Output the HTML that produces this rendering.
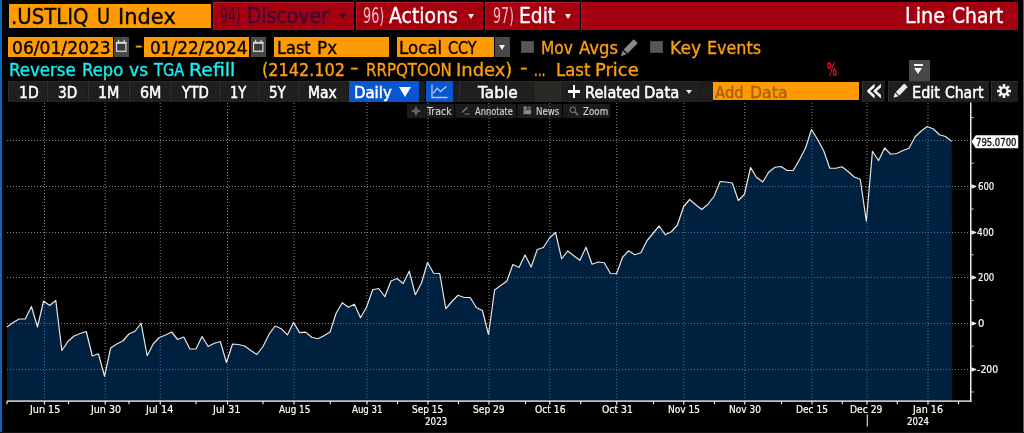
<!DOCTYPE html>
<html><head><meta charset="utf-8"><title>Line Chart</title>
<style>
html,body{margin:0;padding:0;background:#000;}
body{width:1024px;height:433px;position:relative;overflow:hidden;font-family:"DejaVu Sans", "Liberation Sans", sans-serif;}
.b{position:absolute;display:block;}
.t{position:absolute;white-space:pre;line-height:1;transform-origin:0 0;}
</style></head><body>
<div class="b" style="left:0px;top:0px;width:1.5px;height:433px;background:#0a68b8;"></div>
<div class="b" style="left:1022.8px;top:0px;width:1.2px;height:433px;background:#0a78d2;"></div>
<div class="b" style="left:0px;top:432px;width:1024px;height:1px;background:#141414;"></div>
<div class="b" style="left:8.8px;top:3.8px;width:202.4px;height:24.7px;background:#ff9a00;"></div>
<div class="b" style="left:212.7px;top:2.2px;width:141.5px;height:27.8px;background:#a4000f;box-shadow:inset 0 1px 0 #bc1c30, inset 1px 0 0 #b41426;"></div>
<div class="b" style="left:355.6px;top:2.2px;width:127.6px;height:27.8px;background:#a4000f;box-shadow:inset 0 1px 0 #bc1c30, inset 1px 0 0 #b41426;"></div>
<div class="b" style="left:484.6px;top:2.2px;width:95.4px;height:27.8px;background:#a4000f;box-shadow:inset 0 1px 0 #bc1c30, inset 1px 0 0 #b41426;"></div>
<div class="b" style="left:581.4px;top:2.2px;width:436.5px;height:27.8px;background:#a4000f;box-shadow:inset 1px 0 0 #b81428;"></div>
<div class="b" style="left:339.5px;top:14.2px;width:0;height:0;border-left:3.2px solid transparent;border-right:3.2px solid transparent;border-top:5.2px solid #3a0838;"></div>
<div class="b" style="left:468px;top:14.2px;width:0;height:0;border-left:3.2px solid transparent;border-right:3.2px solid transparent;border-top:5.2px solid #eee;"></div>
<div class="b" style="left:565px;top:14.2px;width:0;height:0;border-left:3.3px solid transparent;border-right:3.3px solid transparent;border-top:5.2px solid #eee;"></div>
<div class="b" style="left:8.3px;top:37px;width:104.7px;height:20px;background:#ff9a00;"></div>
<div class="b" style="left:113.5px;top:37px;width:15.9px;height:20px;background:#484848;"></div>
<div class="b" style="left:144.4px;top:37px;width:104.8px;height:20px;background:#ff9a00;"></div>
<div class="b" style="left:250.5px;top:37px;width:15.4px;height:20px;background:#484848;"></div>
<div class="b" style="left:273.6px;top:37px;width:115.4px;height:20px;background:#ff9a00;"></div>
<div class="b" style="left:397.2px;top:37px;width:97.0px;height:20px;background:#ff9a00;"></div>
<div class="b" style="left:495.2px;top:37px;width:15.0px;height:20px;background:#484848;"></div>
<div class="b" style="left:499.4px;top:45px;width:0;height:0;border-left:3.2px solid transparent;border-right:3.2px solid transparent;border-top:5px solid #f4f4f4;"></div>
<div class="b" style="left:521px;top:41px;width:12.6px;height:12.4px;background:#585858;box-shadow:inset 0 0 0 1px #4a4a4a;"></div>
<div class="b" style="left:650px;top:41px;width:13px;height:12.4px;background:#585858;box-shadow:inset 0 0 0 1px #4a4a4a;"></div>
<svg class="b" style="left:116px;top:39.1px" width="11.4" height="13.3" viewBox="0 0 13 14" preserveAspectRatio="none"><rect x="0.7" y="3.7" width="10.6" height="9.2" fill="#3b3b3b" stroke="#dedede" stroke-width="1.3"/><rect x="0.1" y="3.1" width="11.8" height="1.9" fill="#dedede"/><rect x="2.3" y="0.8" width="1.3" height="3" fill="#dedede"/><rect x="8.6" y="0.8" width="1.3" height="3" fill="#dedede"/></svg>
<svg class="b" style="left:252.7px;top:39.1px" width="11.4" height="13.3" viewBox="0 0 13 14" preserveAspectRatio="none"><rect x="0.7" y="3.7" width="10.6" height="9.2" fill="#3b3b3b" stroke="#dedede" stroke-width="1.3"/><rect x="0.1" y="3.1" width="11.8" height="1.9" fill="#dedede"/><rect x="2.3" y="0.8" width="1.3" height="3" fill="#dedede"/><rect x="8.6" y="0.8" width="1.3" height="3" fill="#dedede"/></svg>
<svg class="b" style="left:616.6px;top:38.5px" width="21" height="21" viewBox="0 0 19 19"><g transform="rotate(45 9.5 9.5)"><rect x="7" y="-1" width="5" height="13" fill="#8a8a8a"/><path d="M7 13.2h5L9.5 18z" fill="#8a8a8a"/></g></svg>
<div class="b" style="left:908.5px;top:59.8px;width:21.3px;height:20.8px;background:#484848;"></div>
<div class="b" style="left:914px;top:63.8px;width:9px;height:1.8px;background:#f4f4f4;"></div>
<div class="b" style="left:914px;top:67.5px;width:0;height:0;border-left:4.5px solid transparent;border-right:4.5px solid transparent;border-top:6.3px solid #f4f4f4;"></div>
<div class="b" style="left:8.2px;top:80.7px;width:38.8px;height:21.6px;background:#1f1f1f;box-shadow:inset 1px 0 0 #303030, inset 0 1px 0 #2c2c2c, inset -1px 0 0 #1a1a1a;"></div>
<div class="b" style="left:47px;top:80.7px;width:41px;height:21.6px;background:#1f1f1f;box-shadow:inset 1px 0 0 #303030, inset 0 1px 0 #2c2c2c, inset -1px 0 0 #1a1a1a;"></div>
<div class="b" style="left:88px;top:80.7px;width:41px;height:21.6px;background:#1f1f1f;box-shadow:inset 1px 0 0 #303030, inset 0 1px 0 #2c2c2c, inset -1px 0 0 #1a1a1a;"></div>
<div class="b" style="left:129px;top:80.7px;width:41px;height:21.6px;background:#1f1f1f;box-shadow:inset 1px 0 0 #303030, inset 0 1px 0 #2c2c2c, inset -1px 0 0 #1a1a1a;"></div>
<div class="b" style="left:170px;top:80.7px;width:49px;height:21.6px;background:#1f1f1f;box-shadow:inset 1px 0 0 #303030, inset 0 1px 0 #2c2c2c, inset -1px 0 0 #1a1a1a;"></div>
<div class="b" style="left:219px;top:80.7px;width:39px;height:21.6px;background:#1f1f1f;box-shadow:inset 1px 0 0 #303030, inset 0 1px 0 #2c2c2c, inset -1px 0 0 #1a1a1a;"></div>
<div class="b" style="left:258px;top:80.7px;width:40px;height:21.6px;background:#1f1f1f;box-shadow:inset 1px 0 0 #303030, inset 0 1px 0 #2c2c2c, inset -1px 0 0 #1a1a1a;"></div>
<div class="b" style="left:298px;top:80.7px;width:51px;height:21.6px;background:#1f1f1f;box-shadow:inset 1px 0 0 #303030, inset 0 1px 0 #2c2c2c, inset -1px 0 0 #1a1a1a;"></div>
<div class="b" style="left:349.4px;top:80.7px;width:69.3px;height:21.6px;background:#0a55d0;"></div>
<div class="b" style="left:418.7px;top:80.7px;width:6.8px;height:21.6px;background:#1e1e1e;"></div>
<div class="b" style="left:425.5px;top:80.7px;width:27.0px;height:21.6px;background:#0a55d0;"></div>
<div class="b" style="left:452.5px;top:80.7px;width:6.2px;height:21.6px;background:#1e1e1e;"></div>
<div class="b" style="left:458.7px;top:80.7px;width:75.0px;height:21.6px;background:#1f1f1f;box-shadow:inset 1px 0 0 #303030, inset 0 1px 0 #2c2c2c, inset -1px 0 0 #1a1a1a;"></div>
<div class="b" style="left:533.7px;top:80.7px;width:26.3px;height:21.6px;background:#2a2822;"></div>
<div class="b" style="left:560px;top:80.7px;width:139.5px;height:21.6px;background:#1f1f1f;box-shadow:inset 1px 0 0 #303030, inset 0 1px 0 #2c2c2c, inset -1px 0 0 #1a1a1a;"></div>
<div class="b" style="left:699.5px;top:80.7px;width:13.5px;height:21.6px;background:#1f1e1a;"></div>
<div class="b" style="left:713px;top:81.5px;width:146.3px;height:18.8px;background:#ff9a00;"></div>
<div class="b" style="left:861.7px;top:80.7px;width:23.8px;height:21.6px;background:#1f1f1f;box-shadow:inset 1px 0 0 #303030, inset 0 1px 0 #2c2c2c, inset -1px 0 0 #1a1a1a;"></div>
<div class="b" style="left:887.5px;top:80.7px;width:101.7px;height:21.6px;background:#1f1f1f;box-shadow:inset 1px 0 0 #303030, inset 0 1px 0 #2c2c2c, inset -1px 0 0 #1a1a1a;"></div>
<div class="b" style="left:991.3px;top:80.7px;width:26.7px;height:21.6px;background:#1f1f1f;box-shadow:inset 1px 0 0 #303030, inset 0 1px 0 #2c2c2c, inset -1px 0 0 #1a1a1a;"></div>
<div class="b" style="left:398.8px;top:86.5px;width:0;height:0;border-left:6.2px solid transparent;border-right:6.2px solid transparent;border-top:10.5px solid #fff;"></div>
<div class="b" style="left:685.5px;top:90.2px;width:0;height:0;border-left:3.35px solid transparent;border-right:3.35px solid transparent;border-top:4.4px solid #eee;"></div>
<div class="b" style="left:567.5px;top:90.3px;width:12.5px;height:2.4px;background:#fff;"></div>
<div class="b" style="left:572.6px;top:85.2px;width:2.4px;height:12.6px;background:#fff;"></div>
<svg class="b" style="left:430px;top:83px" width="19" height="17" viewBox="0 0 19 17"><path d="M2 1.5V14.5H17.5" fill="none" stroke="#b4c6f2" stroke-width="1.3"/><path d="M3.2 10.5L7.2 5.2L10.6 8.6L16.5 3.2" fill="none" stroke="#b4c6f2" stroke-width="1.3"/></svg>
<svg class="b" style="left:890.3px;top:82.9px" width="18.3" height="18.3" viewBox="0 0 17 17"><g transform="rotate(45 8.5 8.5)"><rect x="6.2" y="-0.5" width="4.6" height="11" fill="#eee"/><path d="M6.2 11.6h4.6L8.5 16z" fill="#eee"/></g></svg>
<svg class="b" style="left:996.9px;top:83.8px" width="14" height="14" viewBox="-7 -7 14 14"><g fill="#f0f0f0"><rect x="-1.3" y="-7" width="2.6" height="14" transform="rotate(0)"/><rect x="-1.3" y="-7" width="2.6" height="14" transform="rotate(45)"/><rect x="-1.3" y="-7" width="2.6" height="14" transform="rotate(90)"/><rect x="-1.3" y="-7" width="2.6" height="14" transform="rotate(135)"/><circle r="4.6"/></g><circle r="2.4" fill="#1e1e1e"/></svg>
<div class="b" style="left:406.5px;top:103.5px;width:47.5px;height:14.5px;background:#1b1b1b;"></div>
<div class="b" style="left:455.2px;top:103.5px;width:60.4px;height:14.5px;background:#1b1b1b;"></div>
<div class="b" style="left:516.8px;top:103.5px;width:45.2px;height:14.5px;background:#1b1b1b;"></div>
<div class="b" style="left:563.2px;top:103.5px;width:46.8px;height:14.5px;background:#1b1b1b;"></div>
<svg class="b" style="left:410.6px;top:105.5px" width="10" height="10" viewBox="0 0 10 10"><path d="M5 0.5V9.5M0.5 5H9.5" stroke="#828282" stroke-width="1"/><rect x="3" y="3" width="4" height="4" fill="none" stroke="#828282" stroke-width="0.9" transform="rotate(45 5 5)"/></svg>
<svg class="b" style="left:460.5px;top:106px" width="9" height="9" viewBox="0 0 9 9"><path d="M1 6.5L6.5 1.2" stroke="#828282" stroke-width="1.2"/><path d="M3.5 8h4.8" stroke="#828282" stroke-width="1"/></svg>
<svg class="b" style="left:523px;top:106.3px" width="9" height="9" viewBox="0 0 9 9"><rect x="0.5" y="0.5" width="3.2" height="3.2" fill="#8a8a8a"/><rect x="0.5" y="4.2" width="7.6" height="4" fill="#8a8a8a"/><rect x="4.4" y="0.8" width="3.6" height="1" fill="#8a8a8a"/><rect x="4.4" y="2.6" width="3.6" height="1" fill="#8a8a8a"/></svg>
<svg class="b" style="left:568.5px;top:105.8px" width="10" height="10" viewBox="0 0 10 10"><circle cx="3.8" cy="3.8" r="2.8" fill="none" stroke="#828282" stroke-width="1"/><path d="M6 6L9.2 9.2" stroke="#828282" stroke-width="1.3"/></svg>
<svg class="b" style="left:0;top:0" width="1024" height="433" viewBox="0 0 1024 433">
<defs><clipPath id="ac"><path d="M7.03,401 L7.03,327.00 L13.12,322.50 L19.22,319.00 L25.31,319.00 L31.41,306.50 L37.50,327.00 L43.60,301.00 L49.69,305.50 L55.79,300.50 L61.88,350.50 L67.97,341.50 L74.07,336.00 L80.16,333.50 L86.26,331.50 L92.35,356.00 L98.45,353.75 L104.54,376.25 L110.64,348.00 L116.73,344.00 L122.83,341.00 L128.92,334.00 L135.01,331.25 L141.11,323.25 L147.20,355.75 L153.30,343.75 L159.39,337.50 L165.49,335.00 L171.58,332.00 L177.68,339.50 L183.77,337.00 L189.87,349.00 L195.96,349.00 L202.05,336.50 L208.15,346.50 L214.24,343.25 L220.34,341.50 L226.43,362.50 L232.53,344.00 L238.62,344.50 L244.72,346.00 L250.81,350.60 L256.90,354.50 L263.00,346.50 L269.09,334.20 L275.19,326.00 L281.28,328.75 L287.38,334.90 L293.47,322.50 L299.57,332.60 L305.66,332.10 L311.75,337.25 L317.85,338.75 L323.94,335.70 L330.04,332.10 L336.13,313.25 L342.23,302.75 L348.32,307.25 L354.42,304.25 L360.51,317.75 L366.61,307.00 L372.70,289.75 L378.79,288.50 L384.89,296.75 L390.98,281.00 L397.08,278.50 L403.17,283.50 L409.27,271.25 L415.36,294.75 L421.46,283.00 L427.55,262.50 L433.64,273.25 L439.74,273.50 L445.83,308.75 L451.93,301.50 L458.02,295.25 L464.12,297.50 L470.21,297.50 L476.31,307.50 L482.40,310.50 L488.50,334.50 L494.59,290.00 L500.68,285.50 L506.78,281.25 L512.87,264.50 L518.97,267.50 L525.06,255.00 L531.16,267.00 L537.25,249.50 L543.35,247.50 L549.44,238.00 L555.53,232.50 L561.63,258.75 L567.72,251.00 L573.82,255.75 L579.91,260.25 L586.01,247.25 L592.10,264.25 L598.20,262.00 L604.29,262.75 L610.39,273.50 L616.48,273.75 L622.57,257.25 L628.67,250.75 L634.76,254.75 L640.86,252.75 L646.95,240.75 L653.05,233.25 L659.14,226.00 L665.24,234.75 L671.33,231.75 L677.42,225.00 L683.52,206.75 L689.61,199.50 L695.71,204.75 L701.80,209.50 L707.90,204.25 L713.99,196.50 L720.09,181.50 L726.18,182.00 L732.28,183.00 L738.37,200.50 L744.46,194.25 L750.56,167.50 L756.65,177.50 L762.75,182.00 L768.84,172.00 L774.94,167.25 L781.03,166.50 L787.13,170.50 L793.22,170.50 L799.31,160.00 L805.41,148.25 L811.50,129.50 L817.60,139.50 L823.69,150.75 L829.79,168.25 L835.88,168.25 L841.98,166.75 L848.07,171.50 L854.17,177.00 L860.26,179.25 L866.35,221.25 L872.45,151.25 L878.54,160.50 L884.64,148.00 L890.73,154.25 L896.83,153.50 L902.92,150.50 L909.02,148.25 L915.11,136.75 L921.20,131.00 L927.30,126.50 L933.39,129.00 L939.49,134.75 L945.58,136.50 L951.68,141.40 L952.28,401 Z"/></clipPath></defs>
<g stroke="#848484" stroke-width="1" stroke-dasharray="1 2" fill="none"><line x1="7" x2="968.5" y1="140.5" y2="140.5"/><line x1="7" x2="968.5" y1="186.5" y2="186.5"/><line x1="7" x2="968.5" y1="232.5" y2="232.5"/><line x1="7" x2="968.5" y1="277.5" y2="277.5"/><line x1="7" x2="968.5" y1="323.5" y2="323.5"/><line x1="7" x2="968.5" y1="369.5" y2="369.5"/><line x1="44.5" x2="44.5" y1="103" y2="400.5"/><line x1="105.25" x2="105.25" y1="103" y2="400.5"/><line x1="160.25" x2="160.25" y1="103" y2="400.5"/><line x1="227.5" x2="227.5" y1="103" y2="400.5"/><line x1="294" x2="294" y1="103" y2="400.5"/><line x1="367" x2="367" y1="103" y2="400.5"/><line x1="428" x2="428" y1="103" y2="400.5"/><line x1="489" x2="489" y1="103" y2="400.5"/><line x1="549.75" x2="549.75" y1="103" y2="400.5"/><line x1="616.75" x2="616.75" y1="103" y2="400.5"/><line x1="683.75" x2="683.75" y1="103" y2="400.5"/><line x1="744.75" x2="744.75" y1="103" y2="400.5"/><line x1="812" x2="812" y1="103" y2="400.5"/><line x1="867" x2="867" y1="103" y2="400.5"/><line x1="928" x2="928" y1="103" y2="400.5"/></g>
<path d="M7.03,401 L7.03,327.00 L13.12,322.50 L19.22,319.00 L25.31,319.00 L31.41,306.50 L37.50,327.00 L43.60,301.00 L49.69,305.50 L55.79,300.50 L61.88,350.50 L67.97,341.50 L74.07,336.00 L80.16,333.50 L86.26,331.50 L92.35,356.00 L98.45,353.75 L104.54,376.25 L110.64,348.00 L116.73,344.00 L122.83,341.00 L128.92,334.00 L135.01,331.25 L141.11,323.25 L147.20,355.75 L153.30,343.75 L159.39,337.50 L165.49,335.00 L171.58,332.00 L177.68,339.50 L183.77,337.00 L189.87,349.00 L195.96,349.00 L202.05,336.50 L208.15,346.50 L214.24,343.25 L220.34,341.50 L226.43,362.50 L232.53,344.00 L238.62,344.50 L244.72,346.00 L250.81,350.60 L256.90,354.50 L263.00,346.50 L269.09,334.20 L275.19,326.00 L281.28,328.75 L287.38,334.90 L293.47,322.50 L299.57,332.60 L305.66,332.10 L311.75,337.25 L317.85,338.75 L323.94,335.70 L330.04,332.10 L336.13,313.25 L342.23,302.75 L348.32,307.25 L354.42,304.25 L360.51,317.75 L366.61,307.00 L372.70,289.75 L378.79,288.50 L384.89,296.75 L390.98,281.00 L397.08,278.50 L403.17,283.50 L409.27,271.25 L415.36,294.75 L421.46,283.00 L427.55,262.50 L433.64,273.25 L439.74,273.50 L445.83,308.75 L451.93,301.50 L458.02,295.25 L464.12,297.50 L470.21,297.50 L476.31,307.50 L482.40,310.50 L488.50,334.50 L494.59,290.00 L500.68,285.50 L506.78,281.25 L512.87,264.50 L518.97,267.50 L525.06,255.00 L531.16,267.00 L537.25,249.50 L543.35,247.50 L549.44,238.00 L555.53,232.50 L561.63,258.75 L567.72,251.00 L573.82,255.75 L579.91,260.25 L586.01,247.25 L592.10,264.25 L598.20,262.00 L604.29,262.75 L610.39,273.50 L616.48,273.75 L622.57,257.25 L628.67,250.75 L634.76,254.75 L640.86,252.75 L646.95,240.75 L653.05,233.25 L659.14,226.00 L665.24,234.75 L671.33,231.75 L677.42,225.00 L683.52,206.75 L689.61,199.50 L695.71,204.75 L701.80,209.50 L707.90,204.25 L713.99,196.50 L720.09,181.50 L726.18,182.00 L732.28,183.00 L738.37,200.50 L744.46,194.25 L750.56,167.50 L756.65,177.50 L762.75,182.00 L768.84,172.00 L774.94,167.25 L781.03,166.50 L787.13,170.50 L793.22,170.50 L799.31,160.00 L805.41,148.25 L811.50,129.50 L817.60,139.50 L823.69,150.75 L829.79,168.25 L835.88,168.25 L841.98,166.75 L848.07,171.50 L854.17,177.00 L860.26,179.25 L866.35,221.25 L872.45,151.25 L878.54,160.50 L884.64,148.00 L890.73,154.25 L896.83,153.50 L902.92,150.50 L909.02,148.25 L915.11,136.75 L921.20,131.00 L927.30,126.50 L933.39,129.00 L939.49,134.75 L945.58,136.50 L951.68,141.40 L952.28,401 Z" fill="#00203f"/>
<g stroke="#42789d" stroke-width="1" stroke-dasharray="1 2" fill="none" clip-path="url(#ac)"><line x1="7" x2="968.5" y1="140.5" y2="140.5"/><line x1="7" x2="968.5" y1="186.5" y2="186.5"/><line x1="7" x2="968.5" y1="232.5" y2="232.5"/><line x1="7" x2="968.5" y1="277.5" y2="277.5"/><line x1="7" x2="968.5" y1="323.5" y2="323.5"/><line x1="7" x2="968.5" y1="369.5" y2="369.5"/><line x1="44.5" x2="44.5" y1="103" y2="400.5"/><line x1="105.25" x2="105.25" y1="103" y2="400.5"/><line x1="160.25" x2="160.25" y1="103" y2="400.5"/><line x1="227.5" x2="227.5" y1="103" y2="400.5"/><line x1="294" x2="294" y1="103" y2="400.5"/><line x1="367" x2="367" y1="103" y2="400.5"/><line x1="428" x2="428" y1="103" y2="400.5"/><line x1="489" x2="489" y1="103" y2="400.5"/><line x1="549.75" x2="549.75" y1="103" y2="400.5"/><line x1="616.75" x2="616.75" y1="103" y2="400.5"/><line x1="683.75" x2="683.75" y1="103" y2="400.5"/><line x1="744.75" x2="744.75" y1="103" y2="400.5"/><line x1="812" x2="812" y1="103" y2="400.5"/><line x1="867" x2="867" y1="103" y2="400.5"/><line x1="928" x2="928" y1="103" y2="400.5"/></g>
<polyline points="7.03,327.00 13.12,322.50 19.22,319.00 25.31,319.00 31.41,306.50 37.50,327.00 43.60,301.00 49.69,305.50 55.79,300.50 61.88,350.50 67.97,341.50 74.07,336.00 80.16,333.50 86.26,331.50 92.35,356.00 98.45,353.75 104.54,376.25 110.64,348.00 116.73,344.00 122.83,341.00 128.92,334.00 135.01,331.25 141.11,323.25 147.20,355.75 153.30,343.75 159.39,337.50 165.49,335.00 171.58,332.00 177.68,339.50 183.77,337.00 189.87,349.00 195.96,349.00 202.05,336.50 208.15,346.50 214.24,343.25 220.34,341.50 226.43,362.50 232.53,344.00 238.62,344.50 244.72,346.00 250.81,350.60 256.90,354.50 263.00,346.50 269.09,334.20 275.19,326.00 281.28,328.75 287.38,334.90 293.47,322.50 299.57,332.60 305.66,332.10 311.75,337.25 317.85,338.75 323.94,335.70 330.04,332.10 336.13,313.25 342.23,302.75 348.32,307.25 354.42,304.25 360.51,317.75 366.61,307.00 372.70,289.75 378.79,288.50 384.89,296.75 390.98,281.00 397.08,278.50 403.17,283.50 409.27,271.25 415.36,294.75 421.46,283.00 427.55,262.50 433.64,273.25 439.74,273.50 445.83,308.75 451.93,301.50 458.02,295.25 464.12,297.50 470.21,297.50 476.31,307.50 482.40,310.50 488.50,334.50 494.59,290.00 500.68,285.50 506.78,281.25 512.87,264.50 518.97,267.50 525.06,255.00 531.16,267.00 537.25,249.50 543.35,247.50 549.44,238.00 555.53,232.50 561.63,258.75 567.72,251.00 573.82,255.75 579.91,260.25 586.01,247.25 592.10,264.25 598.20,262.00 604.29,262.75 610.39,273.50 616.48,273.75 622.57,257.25 628.67,250.75 634.76,254.75 640.86,252.75 646.95,240.75 653.05,233.25 659.14,226.00 665.24,234.75 671.33,231.75 677.42,225.00 683.52,206.75 689.61,199.50 695.71,204.75 701.80,209.50 707.90,204.25 713.99,196.50 720.09,181.50 726.18,182.00 732.28,183.00 738.37,200.50 744.46,194.25 750.56,167.50 756.65,177.50 762.75,182.00 768.84,172.00 774.94,167.25 781.03,166.50 787.13,170.50 793.22,170.50 799.31,160.00 805.41,148.25 811.50,129.50 817.60,139.50 823.69,150.75 829.79,168.25 835.88,168.25 841.98,166.75 848.07,171.50 854.17,177.00 860.26,179.25 866.35,221.25 872.45,151.25 878.54,160.50 884.64,148.00 890.73,154.25 896.83,153.50 902.92,150.50 909.02,148.25 915.11,136.75 921.20,131.00 927.30,126.50 933.39,129.00 939.49,134.75 945.58,136.50 951.68,141.40" fill="none" stroke="#e6e6e6" stroke-width="1.2" stroke-linejoin="round"/>
<g fill="#ececec">
<rect x="7" y="400.4" width="964.5" height="1.4"/>
<rect x="970" y="102.5" width="1.5" height="299.2"/>
<rect x="43.9" y="401" width="1.2" height="3.6"/><rect x="104.65" y="401" width="1.2" height="3.6"/><rect x="159.65" y="401" width="1.2" height="3.6"/><rect x="226.9" y="401" width="1.2" height="3.6"/><rect x="293.4" y="401" width="1.2" height="3.6"/><rect x="366.4" y="401" width="1.2" height="3.6"/><rect x="427.4" y="401" width="1.2" height="3.6"/><rect x="488.4" y="401" width="1.2" height="3.6"/><rect x="549.15" y="401" width="1.2" height="3.6"/><rect x="616.15" y="401" width="1.2" height="3.6"/><rect x="683.15" y="401" width="1.2" height="3.6"/><rect x="744.15" y="401" width="1.2" height="3.6"/><rect x="811.4" y="401" width="1.2" height="3.6"/><rect x="866.4" y="401" width="1.2" height="3.6"/><rect x="927.4" y="401" width="1.2" height="3.6"/><rect x="6.4" y="401" width="1.2" height="3.2"/><rect x="67.9" y="401" width="1.2" height="3.2"/><rect x="128.4" y="401" width="1.2" height="3.2"/><rect x="195.4" y="401" width="1.2" height="3.2"/><rect x="262.4" y="401" width="1.2" height="3.2"/><rect x="329.65" y="401" width="1.2" height="3.2"/><rect x="396.9" y="401" width="1.2" height="3.2"/><rect x="457.9" y="401" width="1.2" height="3.2"/><rect x="524.9" y="401" width="1.2" height="3.2"/><rect x="580.15" y="401" width="1.2" height="3.2"/><rect x="652.9" y="401" width="1.2" height="3.2"/><rect x="713.9" y="401" width="1.2" height="3.2"/><rect x="780.9" y="401" width="1.2" height="3.2"/><rect x="841.65" y="401" width="1.2" height="3.2"/><rect x="896.65" y="401" width="1.2" height="3.2"/><rect x="957.9" y="401" width="1.2" height="3.2"/><path d="M971.3,184.2 L976.2,186.0 L976.2,187.0 L971.3,188.8Z"/><path d="M971.3,230.2 L976.2,232.0 L976.2,233.0 L971.3,234.8Z"/><path d="M971.3,275.2 L976.2,277.0 L976.2,278.0 L971.3,279.8Z"/><path d="M971.3,321.2 L976.2,323.0 L976.2,324.0 L971.3,325.8Z"/><path d="M971.3,367.2 L976.2,369.0 L976.2,370.0 L971.3,371.8Z"/><rect x="971.4" y="117.0" width="2.2" height="1.2" fill="#bbb"/><rect x="971.4" y="162.7" width="2.2" height="1.2" fill="#bbb"/><rect x="971.4" y="208.4" width="2.2" height="1.2" fill="#bbb"/><rect x="971.4" y="254.2" width="2.2" height="1.2" fill="#bbb"/><rect x="971.4" y="299.9" width="2.2" height="1.2" fill="#bbb"/><rect x="971.4" y="345.6" width="2.2" height="1.2" fill="#bbb"/><rect x="971.4" y="391.3" width="2.2" height="1.2" fill="#bbb"/>
<rect x="866.7" y="414.5" width="1.2" height="12" fill="#cfcfcf"/>
<path d="M971.6,141.5 L975.8,135.2 H1018.2 V148.2 H975.8Z" fill="#fff"/>
</g>
</svg>
<span class="t" style="left:10.99px;top:7.00px;font-size:21.0px;color:#000;font-weight:400;transform:scaleX(0.9388);-webkit-text-stroke:0.35px;">.USTLIQ</span>
<span class="t" style="left:97.26px;top:7.00px;font-size:21.0px;color:#000;font-weight:400;transform:scaleX(0.8511);-webkit-text-stroke:0.35px;">U</span>
<span class="t" style="left:118.00px;top:7.00px;font-size:21.0px;color:#000;font-weight:400;transform:scaleX(1.0000);-webkit-text-stroke:0.35px;">Index</span>
<span class="t" style="left:220.29px;top:4.80px;font-size:22.0px;color:#3a0838;font-weight:400;transform:scaleX(0.5672);-webkit-text-stroke:0px;">94)</span>
<span class="t" style="left:246.89px;top:4.80px;font-size:22.0px;color:#3a0838;font-weight:400;transform:scaleX(0.8549);-webkit-text-stroke:0.35px;">Discover</span>
<span class="t" style="left:362.77px;top:4.80px;font-size:22.0px;color:#f3b9c6;font-weight:400;transform:scaleX(0.5821);-webkit-text-stroke:0px;">96)</span>
<span class="t" style="left:389.04px;top:4.80px;font-size:22.0px;color:#fff;font-weight:400;transform:scaleX(0.8576);-webkit-text-stroke:0.35px;">Actions</span>
<span class="t" style="left:493.03px;top:4.80px;font-size:22.0px;color:#f3b9c6;font-weight:400;transform:scaleX(0.5746);-webkit-text-stroke:0px;">97)</span>
<span class="t" style="left:519.10px;top:4.80px;font-size:22.0px;color:#fff;font-weight:400;transform:scaleX(0.8497);-webkit-text-stroke:0.35px;">Edit</span>
<span class="t" style="left:904.85px;top:4.80px;font-size:22.0px;color:#fff;font-weight:400;transform:scaleX(0.8772);-webkit-text-stroke:0.35px;">Line</span>
<span class="t" style="left:952.44px;top:4.80px;font-size:22.0px;color:#fff;font-weight:400;transform:scaleX(0.8511);-webkit-text-stroke:0.35px;">Chart</span>
<span class="t" style="left:12.49px;top:40.10px;font-size:17.0px;color:#000;font-weight:400;transform:scaleX(1.0078);-webkit-text-stroke:0.35px;">06/01/2023</span>
<span class="t" style="left:134.66px;top:37.10px;font-size:17.0px;color:#ff9f0a;font-weight:400;transform:scaleX(1.2556);-webkit-text-stroke:0.35px;">-</span>
<span class="t" style="left:149.61px;top:40.10px;font-size:17.0px;color:#000;font-weight:400;transform:scaleX(0.9938);-webkit-text-stroke:0.35px;">01/22/2024</span>
<span class="t" style="left:276.57px;top:40.10px;font-size:17.0px;color:#000;font-weight:400;transform:scaleX(0.9522);-webkit-text-stroke:0.35px;">Last</span>
<span class="t" style="left:317.11px;top:40.10px;font-size:17.0px;color:#000;font-weight:400;transform:scaleX(0.9945);-webkit-text-stroke:0.35px;">Px</span>
<span class="t" style="left:399.13px;top:40.10px;font-size:17.0px;color:#000;font-weight:400;transform:scaleX(0.9780);-webkit-text-stroke:0.35px;">Local</span>
<span class="t" style="left:447.65px;top:40.10px;font-size:17.0px;color:#000;font-weight:400;transform:scaleX(0.8473);-webkit-text-stroke:0.35px;">CCY</span>
<span class="t" style="left:540.64px;top:40.10px;font-size:17.0px;color:#ff9f0a;font-weight:400;transform:scaleX(0.9061);-webkit-text-stroke:0.35px;">Mov</span>
<span class="t" style="left:578.66px;top:40.10px;font-size:17.0px;color:#ff9f0a;font-weight:400;transform:scaleX(0.9682);-webkit-text-stroke:0.35px;">Avgs</span>
<span class="t" style="left:669.98px;top:40.10px;font-size:17.0px;color:#ff9f0a;font-weight:400;transform:scaleX(1.0122);-webkit-text-stroke:0.35px;">Key</span>
<span class="t" style="left:706.69px;top:40.10px;font-size:17.0px;color:#ff9f0a;font-weight:400;transform:scaleX(0.9394);-webkit-text-stroke:0.35px;">Events</span>
<span class="t" style="left:9.14px;top:61.60px;font-size:17.0px;color:#14f0f0;font-weight:400;transform:scaleX(0.9758);-webkit-text-stroke:0.35px;">Reverse</span>
<span class="t" style="left:81.65px;top:61.60px;font-size:17.0px;color:#14f0f0;font-weight:400;transform:scaleX(0.9640);-webkit-text-stroke:0.35px;">Repo</span>
<span class="t" style="left:128.50px;top:61.60px;font-size:17.0px;color:#14f0f0;font-weight:400;transform:scaleX(1.0085);-webkit-text-stroke:0.35px;">vs</span>
<span class="t" style="left:153.75px;top:61.60px;font-size:17.0px;color:#14f0f0;font-weight:400;transform:scaleX(0.8571);-webkit-text-stroke:0.35px;">TGA</span>
<span class="t" style="left:189.33px;top:61.60px;font-size:17.0px;color:#14f0f0;font-weight:400;transform:scaleX(1.1104);-webkit-text-stroke:0.35px;">Refill</span>
<span class="t" style="left:261.58px;top:61.60px;font-size:17.0px;color:#ff9f0a;font-weight:400;transform:scaleX(0.9467);-webkit-text-stroke:0.35px;">(2142.102</span>
<span class="t" style="left:350.21px;top:58.60px;font-size:17.0px;color:#ff9f0a;font-weight:400;transform:scaleX(1.3889);-webkit-text-stroke:0.35px;">-</span>
<span class="t" style="left:365.57px;top:61.60px;font-size:17.0px;color:#ff9f0a;font-weight:400;transform:scaleX(0.8840);-webkit-text-stroke:0.35px;">RRPQTOON</span>
<span class="t" style="left:456.42px;top:61.60px;font-size:17.0px;color:#ff9f0a;font-weight:400;transform:scaleX(1.0545);-webkit-text-stroke:0.35px;">Index)</span>
<span class="t" style="left:519.66px;top:58.60px;font-size:17.0px;color:#ff9f0a;font-weight:400;transform:scaleX(1.2556);-webkit-text-stroke:0.35px;">-</span>
<span class="t" style="left:533.65px;top:61.60px;font-size:17.0px;color:#ff9f0a;font-weight:400;transform:scaleX(0.6731);-webkit-text-stroke:0.35px;">…</span>
<span class="t" style="left:556.04px;top:61.60px;font-size:17.0px;color:#ff9f0a;font-weight:400;transform:scaleX(0.9701);-webkit-text-stroke:0.35px;">Last</span>
<span class="t" style="left:595.32px;top:61.60px;font-size:17.0px;color:#ff9f0a;font-weight:400;transform:scaleX(1.0538);-webkit-text-stroke:0.35px;">Price</span>
<span class="t" style="left:826.64px;top:60.05px;font-size:19.0px;color:#ff0030;font-weight:700;transform:scaleX(0.5194);-webkit-text-stroke:0px;">%</span>
<span class="t" style="left:18.60px;top:86.00px;font-size:15.0px;color:#fff;font-weight:400;transform:scaleX(0.9333);-webkit-text-stroke:0.5px;">1D</span>
<span class="t" style="left:57.84px;top:86.00px;font-size:15.0px;color:#fff;font-weight:400;transform:scaleX(0.9091);-webkit-text-stroke:0.5px;">3D</span>
<span class="t" style="left:97.97px;top:86.00px;font-size:15.0px;color:#fff;font-weight:400;transform:scaleX(0.9538);-webkit-text-stroke:0.5px;">1M</span>
<span class="t" style="left:139.55px;top:86.00px;font-size:15.0px;color:#fff;font-weight:400;transform:scaleX(0.9500);-webkit-text-stroke:0.5px;">6M</span>
<span class="t" style="left:182.00px;top:86.00px;font-size:15.0px;color:#fff;font-weight:400;transform:scaleX(0.8966);-webkit-text-stroke:0.5px;">YTD</span>
<span class="t" style="left:229.95px;top:86.00px;font-size:15.0px;color:#fff;font-weight:400;transform:scaleX(0.8696);-webkit-text-stroke:0.5px;">1Y</span>
<span class="t" style="left:268.60px;top:86.00px;font-size:15.0px;color:#fff;font-weight:400;transform:scaleX(0.9014);-webkit-text-stroke:0.5px;">5Y</span>
<span class="t" style="left:308.12px;top:86.00px;font-size:15.0px;color:#fff;font-weight:400;transform:scaleX(0.9224);-webkit-text-stroke:0.5px;">Max</span>
<span class="t" style="left:354.01px;top:86.00px;font-size:15.0px;color:#fff;font-weight:400;transform:scaleX(0.9931);-webkit-text-stroke:0.5px;">Daily</span>
<span class="t" style="left:477.50px;top:86.00px;font-size:15.0px;color:#fff;font-weight:400;transform:scaleX(1.0197);-webkit-text-stroke:0.5px;">Table</span>
<span class="t" style="left:584.80px;top:86.00px;font-size:15.0px;color:#fff;font-weight:400;transform:scaleX(0.9677);-webkit-text-stroke:0.5px;">Related</span>
<span class="t" style="left:643.52px;top:86.00px;font-size:15.0px;color:#fff;font-weight:400;transform:scaleX(0.9848);-webkit-text-stroke:0.5px;">Data</span>
<span class="t" style="left:912.06px;top:86.00px;font-size:15.0px;color:#fff;font-weight:400;transform:scaleX(0.9633);-webkit-text-stroke:0.5px;">Edit</span>
<span class="t" style="left:945.30px;top:86.00px;font-size:15.0px;color:#fff;font-weight:400;transform:scaleX(0.9317);-webkit-text-stroke:0.5px;">Chart</span>
<span class="t" style="left:715.00px;top:86.10px;font-size:15.5px;color:#a8620a;font-weight:400;transform:scaleX(0.9565);-webkit-text-stroke:0.35px;">Add</span>
<span class="t" style="left:749.73px;top:86.10px;font-size:15.5px;color:#a8620a;font-weight:400;transform:scaleX(1.0146);-webkit-text-stroke:0.35px;">Data</span>
<span class="t" style="left:864.68px;top:75.60px;font-size:29.5px;color:#fff;font-weight:400;transform:scaleX(1.0308);-webkit-text-stroke:0.25px;">«</span>
<span class="t" style="left:426.50px;top:107.00px;font-size:10.0px;color:#d4d4d4;font-weight:400;transform:scaleX(0.9423);-webkit-text-stroke:0.15px;">Track</span>
<span class="t" style="left:475.00px;top:107.00px;font-size:10.0px;color:#d4d4d4;font-weight:400;transform:scaleX(0.8287);-webkit-text-stroke:0.15px;">Annotate</span>
<span class="t" style="left:536.14px;top:107.00px;font-size:10.0px;color:#d4d4d4;font-weight:400;transform:scaleX(0.8627);-webkit-text-stroke:0.15px;">News</span>
<span class="t" style="left:582.81px;top:107.00px;font-size:10.0px;color:#d4d4d4;font-weight:400;transform:scaleX(0.8727);-webkit-text-stroke:0.15px;">Zoom</span>
<span class="t" style="left:977.82px;top:180.60px;font-size:11.0px;color:#fff;font-weight:400;transform:scaleX(0.7744);-webkit-text-stroke:0.2px;">600</span>
<span class="t" style="left:977.39px;top:226.60px;font-size:11.0px;color:#fff;font-weight:400;transform:scaleX(0.8101);-webkit-text-stroke:0.2px;">400</span>
<span class="t" style="left:977.82px;top:271.60px;font-size:11.0px;color:#fff;font-weight:400;transform:scaleX(0.7744);-webkit-text-stroke:0.2px;">200</span>
<span class="t" style="left:977.72px;top:317.60px;font-size:11.0px;color:#fff;font-weight:400;transform:scaleX(0.9091);-webkit-text-stroke:0.2px;">0</span>
<span class="t" style="left:977.37px;top:363.60px;font-size:11.0px;color:#fff;font-weight:400;transform:scaleX(0.8505);-webkit-text-stroke:0.2px;">-200</span>
<span class="t" style="left:976.29px;top:137.10px;font-size:10.5px;color:#111;font-weight:400;transform:scaleX(0.8072);-webkit-text-stroke:0.35px;">795.0700</span>
<span class="t" style="left:29.98px;top:404.70px;font-size:10.0px;color:#fff;font-weight:400;transform:scaleX(0.9600);-webkit-text-stroke:0.2px;">Jun 15</span>
<span class="t" style="left:90.98px;top:404.70px;font-size:10.0px;color:#fff;font-weight:400;transform:scaleX(0.9524);-webkit-text-stroke:0.2px;">Jun 30</span>
<span class="t" style="left:146.24px;top:404.70px;font-size:10.0px;color:#fff;font-weight:400;transform:scaleX(0.9821);-webkit-text-stroke:0.2px;">Jul 14</span>
<span class="t" style="left:213.49px;top:404.70px;font-size:10.0px;color:#fff;font-weight:400;transform:scaleX(0.9818);-webkit-text-stroke:0.2px;">Jul 31</span>
<span class="t" style="left:278.50px;top:404.70px;font-size:10.0px;color:#fff;font-weight:400;transform:scaleX(0.8841);-webkit-text-stroke:0.2px;">Aug 15</span>
<span class="t" style="left:351.75px;top:404.70px;font-size:10.0px;color:#fff;font-weight:400;transform:scaleX(0.8623);-webkit-text-stroke:0.2px;">Aug 31</span>
<span class="t" style="left:412.30px;top:404.70px;font-size:10.0px;color:#fff;font-weight:400;transform:scaleX(0.8955);-webkit-text-stroke:0.2px;">Sep 15</span>
<span class="t" style="left:473.04px;top:404.70px;font-size:10.0px;color:#fff;font-weight:400;transform:scaleX(0.9104);-webkit-text-stroke:0.2px;">Sep 29</span>
<span class="t" style="left:534.54px;top:404.70px;font-size:10.0px;color:#fff;font-weight:400;transform:scaleX(0.9219);-webkit-text-stroke:0.2px;">Oct 16</span>
<span class="t" style="left:601.54px;top:404.70px;font-size:10.0px;color:#fff;font-weight:400;transform:scaleX(0.9291);-webkit-text-stroke:0.2px;">Oct 31</span>
<span class="t" style="left:667.85px;top:404.70px;font-size:10.0px;color:#fff;font-weight:400;transform:scaleX(0.9030);-webkit-text-stroke:0.2px;">Nov 15</span>
<span class="t" style="left:728.60px;top:404.70px;font-size:10.0px;color:#fff;font-weight:400;transform:scaleX(0.9037);-webkit-text-stroke:0.2px;">Nov 30</span>
<span class="t" style="left:795.84px;top:404.70px;font-size:10.0px;color:#fff;font-weight:400;transform:scaleX(0.9104);-webkit-text-stroke:0.2px;">Dec 15</span>
<span class="t" style="left:850.33px;top:404.70px;font-size:10.0px;color:#fff;font-weight:400;transform:scaleX(0.9179);-webkit-text-stroke:0.2px;">Dec 29</span>
<span class="t" style="left:913.48px;top:404.70px;font-size:10.0px;color:#fff;font-weight:400;transform:scaleX(0.9600);-webkit-text-stroke:0.2px;">Jan 16</span>
<span class="t" style="left:425.34px;top:416.70px;font-size:10.0px;color:#fff;font-weight:400;transform:scaleX(0.8750);-webkit-text-stroke:0.2px;">2023</span>
<span class="t" style="left:906.85px;top:416.70px;font-size:10.0px;color:#fff;font-weight:400;transform:scaleX(0.8660);-webkit-text-stroke:0.2px;">2024</span>
</body></html>
